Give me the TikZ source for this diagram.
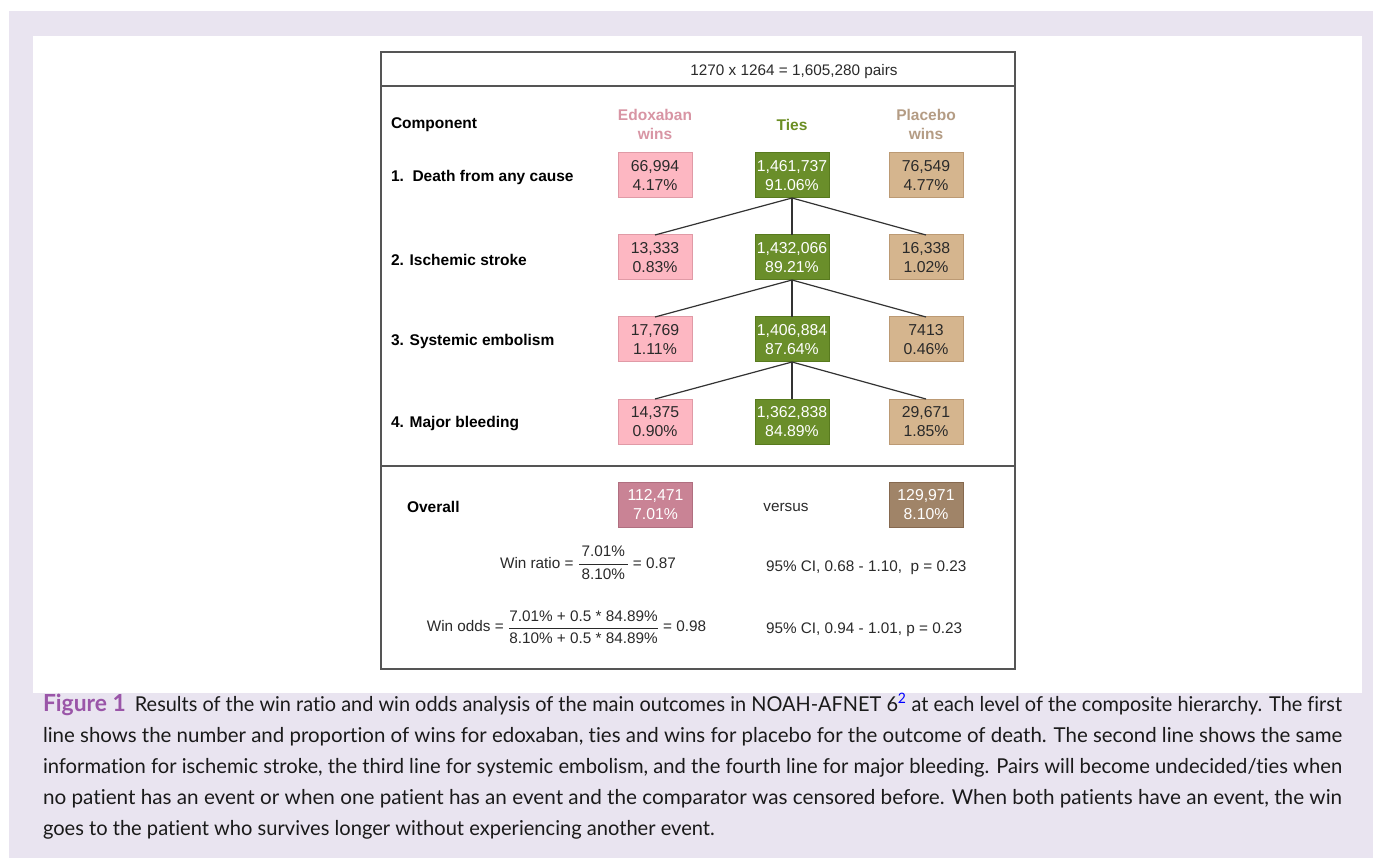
\documentclass[tikz,border=0pt]{standalone}
\usepackage{fontspec}
\usepackage{amsmath}
\usepackage{graphicx}
\setmainfont{Liberation Sans}
\newfontfamily\capfont[FakeStretch=0.98,Ligatures=NoCommon]{Lato}
\definecolor{lav}{HTML}{E9E4F0}
\definecolor{frame}{HTML}{555555}
\definecolor{pinkfill}{HTML}{FDB7C2}
\definecolor{pinkline}{HTML}{E09AA6}
\definecolor{greenfill}{HTML}{6A8E2A}
\definecolor{greenline}{HTML}{587A1E}
\definecolor{tanfill}{HTML}{D5B58E}
\definecolor{tanline}{HTML}{BC9A74}
\definecolor{celltext}{HTML}{2A2A2A}
\definecolor{edoxhead}{HTML}{D895A4}
\definecolor{tieshead}{HTML}{6B8E23}
\definecolor{placehead}{HTML}{B49C84}
\definecolor{ovpink}{HTML}{C98395}
\definecolor{ovpinkline}{HTML}{B06F80}
\definecolor{ovbrown}{HTML}{A08468}
\definecolor{ovbrownline}{HTML}{86694F}
\definecolor{connc}{HTML}{333333}
\definecolor{figpurple}{HTML}{9A55A8}
\definecolor{captext}{HTML}{1A1A1A}
\newcommand\capline[1]{\resizebox{1299pt}{\height}{#1}}
\begin{document}
\begin{tikzpicture}[x=1pt,y=-1pt,
  every node/.style={inner sep=0pt, outer sep=0pt},
  txt/.style={font=\fontsize{15.3}{18}\selectfont, text=celltext},
  lbl/.style={anchor=west, font=\fontsize{15.5}{18}\selectfont\bfseries, text=black},
  head/.style={align=center, font=\fontsize{15.5}{19}\selectfont\bfseries},
  cell/.style={draw, line width=1pt, minimum width=74pt, minimum height=45pt, align=center, font=\fontsize{15.8}{19}\selectfont},
  ebox/.style={cell, fill=pinkfill, draw=pinkline, text=celltext},
  tbox/.style={cell, fill=greenfill, draw=greenline, text=white},
  pbox/.style={cell, fill=tanfill, draw=tanline, text=celltext},
  conn/.style={draw=connc, line width=1.2pt},
  frameline/.style={draw=frame, line width=1.5pt},
  captionline/.style={anchor=base west, font=\capfont\fontsize{20.5}{31}\selectfont, text=captext}
]
\useasboundingbox (0,0) rectangle (1373,858);
\fill[white] (0,0) rectangle (1373,858);
\fill[lav] (9,11) rectangle (1373,858);
\fill[white] (33,36) rectangle (1362,693);
% frame
\draw[frameline] (381,52) rectangle (1015,669);
\draw[frameline] (381,86) -- (1015,86);
\draw[frameline] (381,466) -- (1015,466);
% header
\node[txt] (pairs) at (794,72) {1270 x 1264 = 1,605,280 pairs};
\node[lbl] (comp) at (391,125) {Component};
\node[head, text=edoxhead] (hE) at (655,124) {Edoxaban\\wins};
\node[head, text=tieshead] (hT) at (792,124.5) {Ties};
\node[head, text=placehead] (hP) at (926,124) {Placebo\\wins};
% row labels
\node[lbl] (l1) at (391,177.5) {1.\ \ Death from any cause};
\node[lbl] (l2) at (391,259.5) {2. Ischemic stroke};
\node[lbl] (l3) at (391,341.5) {3. Systemic embolism};
\node[lbl] (l4) at (391,423.5) {4. Major bleeding};
% boxes
\node[ebox] (e1) at (655,175.5) {66,994\\4.17\%};
\node[tbox] (t1) at (792,175.5) {1,461,737\\91.06\%};
\node[pbox] (p1) at (926,175.5) {76,549\\4.77\%};
\node[ebox] (e2) at (655,257.5) {13,333\\0.83\%};
\node[tbox] (t2) at (792,257.5) {1,432,066\\89.21\%};
\node[pbox] (p2) at (926,257.5) {16,338\\1.02\%};
\node[ebox] (e3) at (655,339.5) {17,769\\1.11\%};
\node[tbox] (t3) at (792,339.5) {1,406,884\\87.64\%};
\node[pbox] (p3) at (926,339.5) {7413\\0.46\%};
\node[ebox] (e4) at (655,421.5) {14,375\\0.90\%};
\node[tbox] (t4) at (792,421.5) {1,362,838\\84.89\%};
\node[pbox] (p4) at (926,421.5) {29,671\\1.85\%};
% connectors
\foreach \a/\b in {1/2,2/3,3/4}{
  \draw[conn] (t\a.south) -- (e\b.north);
  \draw[conn] (t\a.south) -- (t\b.north);
  \draw[conn] (t\a.south) -- (p\b.north);
}
% overall
\node[lbl] (ov) at (407,507) {Overall};
\node[cell, fill=ovpink, draw=ovpinkline, text=white] (oe) at (655.5,504.5) {112,471\\7.01\%};
\node[txt] (vs) at (786,507) {versus};
\node[cell, fill=ovbrown, draw=ovbrownline, text=white] (op) at (926,504.5) {129,971\\8.10\%};
% formulas
\node[txt] (wr) at (588,563) {Win ratio = $\dfrac{\rule[-6pt]{0pt}{1pt}\text{\,7.01\%\,}}{\rule{0pt}{13pt}\text{\,8.10\%\,}}$ = 0.87};
\node[txt, anchor=west] (ci1) at (766,568) {95\% CI, 0.68 - 1.10,\ \ p = 0.23};
\node[txt] (wo) at (566.5,627) {Win odds = $\dfrac{\rule[-5pt]{0pt}{1pt}\text{7.01\% + 0.5 * 84.89\%}}{\rule{0pt}{13pt}\text{8.10\% + 0.5 * 84.89\%}}$ = 0.98};
\node[txt, anchor=west] (ci2) at (766,630) {95\% CI, 0.94 - 1.01, p = 0.23};
% caption
\node[captionline] (c1) at (43,711) {\capline{{\fontsize{23.5}{31}\selectfont\bfseries\color{figpurple}Figure 1}\hspace{0.45em}Results of the win ratio and win odds analysis of the main outcomes in NOAH-AFNET 6\textsuperscript{\color{blue}2} at each level of the composite hierarchy. The first}};
\node[captionline] (c2) at (43,742) {\capline{line shows the number and proportion of wins for edoxaban, ties and wins for placebo for the outcome of death. The second line shows the same}};
\node[captionline] (c3) at (43,773) {\capline{information for ischemic stroke, the third line for systemic embolism, and the fourth line for major bleeding. Pairs will become undecided/ties when}};
\node[captionline] (c4) at (43,804) {\capline{no patient has an event or when one patient has an event and the comparator was censored before. When both patients have an event, the win}};
\node[captionline] (c5) at (43,835) {goes to the patient who survives longer without experiencing another event.};
\end{tikzpicture}
\end{document}
